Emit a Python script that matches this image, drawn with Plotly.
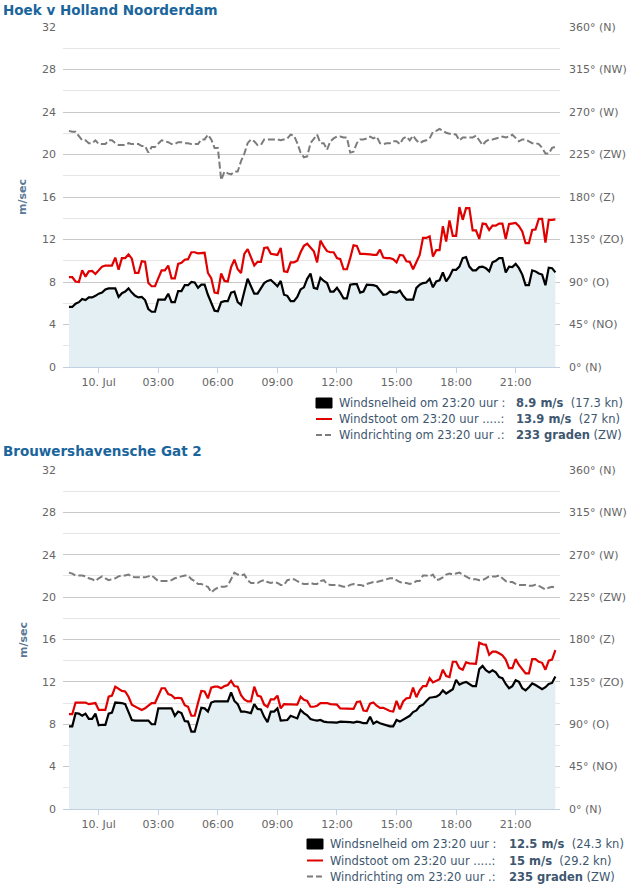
import pandas as pd
import plotly.graph_objects as go

# ---------------- data (10-minute samples, 9 Jul 22:30 -> 10 Jul 23:00) ----------------
times = pd.date_range("2023-07-09 22:30", periods=148, freq="10min")

top_speed = [5.65, 5.65, 5.95, 6.1, 6.4, 6.3, 6.55, 6.55, 6.7, 6.9,
             7.0, 7.3, 7.4, 7.4, 7.4, 6.6, 6.95, 7.1, 7.4, 7.0,
             6.7, 6.55, 6.6, 6.3, 5.45, 5.2, 5.2, 6.35, 6.35, 6.35,
             6.9, 6.1, 6.1, 7.15, 7.15, 7.7, 7.7, 8.0, 7.95, 7.45,
             7.75, 7.75, 6.8, 6.1, 5.3, 5.25, 6.1, 6.2, 6.2, 7.0,
             7.1, 6.1, 5.85, 7.1, 8.3, 7.6, 6.9, 6.9, 7.4, 7.9,
             8.1, 8.2, 7.9, 7.6, 8.1, 6.8, 6.7, 6.2, 6.2, 6.6,
             7.3, 7.5, 8.3, 8.8, 7.45, 7.35, 8.4, 8.1, 7.9, 7.1,
             7.1, 7.45, 7.0, 6.45, 6.45, 7.75, 7.8, 7.8, 7.0, 7.1,
             7.75, 7.75, 7.7, 7.6, 7.2, 6.8, 6.85, 7.1, 7.05, 7.0,
             7.2, 6.7, 6.35, 6.35, 6.35, 7.45, 7.75, 7.9, 7.95, 8.3,
             7.5, 8.05, 8.15, 8.9, 8.05, 8.5, 9.15, 9.15, 9.45, 10.25,
             10.35, 9.45, 9.1, 9.1, 9.4, 9.45, 9.3, 9.0, 9.85, 10.0,
             10.25, 10.25, 8.9, 9.45, 9.4, 9.7, 9.3, 8.7, 7.7, 7.7,
             9.1, 9.0, 8.8, 8.7, 7.7, 9.35, 9.3, 8.9]

top_gust = [8.45, 8.45, 8.05, 8.0, 9.1, 8.5, 9.0, 9.05, 8.75, 9.15,
            9.45, 9.55, 9.55, 9.55, 10.3, 9.15, 10.25, 10.25, 10.6, 10.2,
            8.85, 8.85, 9.95, 9.9, 7.9, 7.6, 7.6, 8.3, 9.1, 9.1,
            9.55, 8.35, 8.35, 9.7, 9.8, 10.1, 10.15, 10.8, 10.8, 10.7,
            10.75, 10.75, 8.85, 8.35, 7.0, 6.95, 8.8, 8.1, 8.05, 9.4,
            10.1, 9.2, 8.85, 10.65, 11.1, 10.4, 9.55, 9.9, 9.9, 11.2,
            11.25, 10.65, 10.6, 10.55, 11.2, 9.0, 8.95, 9.85, 9.85, 10.0,
            10.8, 11.4, 11.6, 11.25, 10.9, 9.85, 11.9, 11.35, 10.9, 10.8,
            10.8, 10.25, 10.15, 9.2, 9.2, 10.25, 11.45, 11.4, 10.65, 10.65,
            10.65, 10.6, 10.55, 10.55, 11.05, 10.3, 10.25, 10.25, 10.15, 9.85,
            10.55, 10.5, 9.95, 9.9, 9.2, 9.95, 10.55, 12.15, 12.15, 12.3,
            10.4, 11.0, 11.0, 13.25, 11.8, 13.8, 12.35, 12.35, 15.05, 13.85,
            14.95, 14.95, 12.85, 12.85, 12.05, 13.5, 13.45, 12.9, 13.3, 13.3,
            13.5, 13.5, 12.05, 13.45, 13.5, 13.55, 13.25, 12.75, 11.65, 11.65,
            12.9, 12.95, 13.95, 13.95, 11.7, 13.85, 13.85, 13.9]

top_dir = [250, 249, 249, 244, 240, 240, 237, 237, 240, 236,
           236, 236, 240, 240, 237, 235, 235, 235, 237, 236,
           236, 236, 234, 234, 227, 233, 233, 236, 240, 239,
           238, 236, 236, 238, 238, 237, 237, 236, 236, 236,
           241, 241, 246, 241, 232, 232, 198, 207, 205, 204,
           207, 207, 218, 226, 237, 241, 239, 235, 235, 241,
           241, 241, 241, 241, 240, 241, 242, 246, 245, 237,
           227, 222, 223, 237, 242, 246, 237, 237, 230, 239,
           242, 244, 244, 243, 243, 227, 228, 237, 241, 241,
           242, 244, 242, 244, 237, 236, 237, 237, 239, 239,
           236, 242, 244, 240, 245, 240, 237, 239, 240, 242,
           249, 250, 252, 250, 248, 247, 247, 246, 240, 243,
           243, 243, 243, 245, 240, 235, 239, 241, 241, 242,
           243, 244, 243, 244, 246, 243, 239, 241, 241, 239,
           237, 237, 236, 232, 226, 226, 232, 233]

bot_speed = [7.8, 7.8, 9.05, 9.0, 8.8, 9.0, 8.5, 8.5, 9.0, 7.9,
             7.95, 7.95, 9.0, 9.1, 10.05, 10.05, 10.0, 9.9, 9.15, 8.4,
             8.35, 8.35, 8.35, 8.35, 8.35, 8.0, 8.0, 9.5, 9.5, 9.5,
             9.5, 9.5, 8.8, 9.2, 9.05, 8.3, 8.25, 7.3, 7.3, 8.55,
             9.55, 9.5, 9.2, 10.05, 10.15, 10.15, 10.15, 10.15, 10.15, 11.0,
             10.2, 9.9, 9.2, 9.2, 9.15, 9.05, 9.9, 9.45, 9.4, 8.7,
             8.2, 9.2, 9.2, 9.5, 8.35, 8.4, 8.4, 8.8, 8.7, 8.55,
             9.35, 9.05, 8.85, 8.5, 8.4, 8.35, 8.4, 8.25, 8.2, 8.2,
             8.15, 8.15, 8.25, 8.25, 8.2, 8.2, 8.15, 8.25, 8.2, 8.1,
             8.1, 8.7, 8.05, 8.25, 8.1, 8.0, 7.9, 7.8, 7.8, 8.4,
             8.25, 8.45, 8.65, 8.8, 9.15, 9.3, 9.7, 9.85, 10.2, 10.5,
             10.55, 10.6, 10.8, 11.2, 10.9, 11.1, 11.3, 12.2, 11.75, 11.9,
             12.0, 11.8, 11.6, 11.6, 13.2, 13.5, 13.1, 12.9, 13.1, 12.9,
             12.45, 12.35, 11.8, 11.4, 11.6, 12.15, 12.0, 11.4, 11.2, 11.5,
             11.85, 11.7, 11.5, 11.3, 11.5, 11.8, 11.9, 12.5]

bot_gust = [8.95, 8.95, 10.05, 10.05, 10.0, 10.05, 9.9, 9.95, 10.0, 9.35,
            9.35, 9.35, 10.6, 10.7, 11.55, 11.35, 11.15, 11.1, 10.6, 9.85,
            9.65, 9.5, 9.35, 9.5, 9.75, 10.0, 10.0, 10.75, 11.4, 11.4,
            10.85, 10.75, 10.45, 10.5, 10.45, 9.8, 9.65, 8.8, 8.8, 10.0,
            11.15, 11.1, 10.45, 11.45, 11.55, 11.55, 11.4, 11.6, 11.7, 12.1,
            11.6, 11.55, 10.75, 10.35, 10.15, 10.15, 11.55, 10.7, 10.6, 9.85,
            9.65, 10.35, 10.35, 10.7, 9.5, 9.9, 9.9, 9.9, 9.85, 9.85,
            10.6, 10.3, 10.2, 9.65, 9.65, 9.75, 10.0, 10.0, 10.0, 9.9,
            9.9, 9.85, 9.5, 9.5, 9.5, 9.45, 9.45, 10.1, 10.15, 9.3,
            9.25, 9.95, 10.05, 9.75, 9.55, 9.55, 9.4, 9.25, 9.2, 10.2,
            9.4, 10.15, 10.45, 10.5, 11.45, 10.55, 11.2, 11.6, 11.6, 12.35,
            11.95, 12.1, 12.25, 13.15, 12.55, 12.45, 13.9, 13.9, 13.3, 13.15,
            13.85, 13.75, 13.7, 13.7, 15.7, 15.55, 15.5, 14.55, 14.85, 14.85,
            14.7, 14.5, 14.1, 13.3, 13.3, 14.15, 13.6, 13.2, 12.8, 12.8,
            14.15, 14.15, 13.9, 13.8, 13.15, 14.0, 14.1, 15.0]

bot_dir = [251, 250, 248, 248, 248, 247, 245, 244, 242, 245,
           247, 245, 243, 244, 245, 247, 248, 248, 249, 247,
           246, 246, 246, 246, 247, 248, 245, 242, 242, 242,
           242, 243, 245, 246, 247, 248, 248, 244, 242, 239,
           239, 237, 236, 230, 233, 235, 236, 236, 237, 244,
           251, 249, 248, 249, 243, 240, 240, 240, 242, 243,
           241, 240, 241, 240, 238, 238, 243, 244, 244, 242,
           240, 239, 239, 240, 239, 239, 242, 243, 239, 238,
           238, 238, 237, 236, 236, 238, 239, 238, 238, 237,
           239, 240, 241, 241, 242, 243, 244, 245, 245, 243,
           241, 240, 240, 239, 240, 242, 242, 248, 248, 247,
           249, 243, 244, 246, 249, 250, 249, 250, 251, 249,
           247, 245, 244, 244, 243, 243, 245, 247, 247, 247,
           248, 245, 242, 241, 241, 239, 238, 238, 238, 237,
           237, 238, 237, 235, 233, 235, 236, 235]

station_names = ["Hoek v Holland Noorderdam", "Brouwershavensche Gat 2"]
x_tick_times = pd.date_range("2023-07-10 00:00", periods=8, freq="3h")
x_tick_text = ["10. Jul", "03:00", "06:00", "09:00", "12:00", "15:00", "18:00", "21:00"]
speed_ticks = list(range(0, 33, 4))
dir_ticks = list(range(0, 361, 45))
dir_tick_text = ["0° (N)", "45° (NO)", "90° (O)", "135° (ZO)", "180° (Z)",
                 "225° (ZW)", "270° (W)", "315° (NW)", "360° (N)"]
compass = ["N", "NO", "O", "ZO", "Z", "ZW", "W", "NW", "N"]
last_time = "23:20"

# ---------------- layout helpers ----------------
W, H = 631, 884
ML, MR, MT, MB = 63, 71, 27, 75
PW, PH = W - ML - MR, H - MT - MB


def px(x):
    return (x - ML) / PW


def py(y):
    return (H - MB - y) / PH


FONT = "DejaVu Sans"
LABEL_C = "#666666"
LEG_C = "#3e576f"
TITLE_C = "#1a659c"
FILL_C = "#e3eff2"

fig = go.Figure()

panels = [
    dict(speed=top_speed, gust=top_gust, dirs=top_dir, x="x", y="y", y2="y2"),
    dict(speed=bot_speed, gust=bot_gust, dirs=bot_dir, x="x2", y="y3", y2="y4"),
]

for p in panels:
    fig.add_trace(go.Scatter(x=times, y=p["speed"], mode="lines", fill="tozeroy",
                             fillcolor=FILL_C, line=dict(color="#000000", width=2.2),
                             xaxis=p["x"], yaxis=p["y"], showlegend=False, name="Windsnelheid"))
    fig.add_trace(go.Scatter(x=times, y=p["gust"], mode="lines",
                             line=dict(color="#e00000", width=2.2),
                             xaxis=p["x"], yaxis=p["y"], showlegend=False, name="Windstoot"))
    fig.add_trace(go.Scatter(x=times, y=p["dirs"], mode="lines",
                             line=dict(color="#7c7c7c", width=2, dash="7px,3px"),
                             xaxis=p["x"], yaxis=p["y2"], showlegend=False, name="Windrichting"))

x_range = [pd.Timestamp("2023-07-09 22:12"), pd.Timestamp("2023-07-10 23:14")]
xcommon = dict(range=x_range, tickvals=x_tick_times, ticktext=x_tick_text,
               ticks="outside", ticklen=5, tickcolor="#c0d0e0", showline=True,
               linecolor="#c0d0e0", linewidth=1, showgrid=False, zeroline=False,
               tickfont=dict(family=FONT, size=11, color=LABEL_C))
yleft = dict(range=[0, 32], tickvals=speed_ticks, showgrid=True, gridcolor="#c8c8c8",
             gridwidth=1, zeroline=False, ticks="", ticklabelstandoff=6,
             minor=dict(dtick=2, showgrid=True, gridcolor="#e6e6e6", gridwidth=1),
             tickfont=dict(family=FONT, size=11, color=LABEL_C))
yright = dict(range=[0, 360], tickvals=dir_ticks, ticktext=dir_tick_text, side="right",
              showgrid=False, zeroline=False, ticks="", ticklabelstandoff=8,
              tickfont=dict(family=FONT, size=11, color=LABEL_C))

top_dom = [py(367), py(27)]
bot_dom = [py(809), py(470)]

fig.update_layout(
    width=W, height=H,
    margin=dict(l=ML, r=MR, t=MT, b=MB, autoexpand=False),
    paper_bgcolor="white", plot_bgcolor="white",
    showlegend=False,
    xaxis=dict(domain=[0, 1], anchor="y", **xcommon),
    xaxis2=dict(domain=[0, 1], anchor="y3", **xcommon),
    yaxis=dict(domain=top_dom, anchor="x", **yleft),
    yaxis2=dict(domain=top_dom, anchor="x", overlaying="y", **yright),
    yaxis3=dict(domain=bot_dom, anchor="x2", **yleft),
    yaxis4=dict(domain=bot_dom, anchor="x2", overlaying="y3", **yright),
)

annotations = []
shapes = []

title_y = [10, 451]
mtitle_y = [197, 640]
leg_rows = [[403, 419, 435], [844, 860.5, 876.5]]
leg_sym_x = [316, 307]
leg_txt_x = [337, 328]
leg_val_x = [514, 507]

for i, p in enumerate(panels):
    annotations.append(dict(text="<b>%s</b>" % station_names[i], xref="paper", yref="paper",
                            x=px(1), y=py(title_y[i]), xanchor="left", yanchor="middle",
                            showarrow=False, font=dict(family=FONT, size=13.5, color=TITLE_C)))
    annotations.append(dict(text="<b>m/sec</b>", xref="paper", yref="paper", textangle=-90,
                            x=px(23), y=py(mtitle_y[i]), xanchor="center", yanchor="middle",
                            showarrow=False, font=dict(family=FONT, size=11, color="#5a7897")))

    sp = p["speed"][-1]
    gu = p["gust"][-1]
    di = p["dirs"][-1]
    labels = ["Windsnelheid om %s uur :" % last_time,
              "Windstoot om %s uur .....:" % last_time,
              "Windrichting om %s uur .:" % last_time]
    values = ["<b>%g m/s</b>  (%g kn)" % (sp, round(sp * 1.94384, 1)),
              "<b>%g m/s</b>  (%g kn)" % (gu, round(gu * 1.94384, 1)),
              "<b>%d graden</b> (%s)" % (di, compass[int(round(di / 45.0))])]
    rows = leg_rows[i]
    for r in range(3):
        annotations.append(dict(text=labels[r], xref="paper", yref="paper",
                                x=px(leg_txt_x[i]), y=py(rows[r]), xanchor="left", yanchor="middle",
                                showarrow=False, font=dict(family=FONT, size=11.5, color=LEG_C)))
        annotations.append(dict(text=values[r], xref="paper", yref="paper",
                                x=px(leg_val_x[i]), y=py(rows[r]), xanchor="left", yanchor="middle",
                                showarrow=False, font=dict(family=FONT, size=11.5, color=LEG_C)))
    sx = leg_sym_x[i]
    shapes.append(dict(type="rect", xref="paper", yref="paper",
                       x0=px(sx), x1=px(sx + 16), y0=py(rows[0] - 5), y1=py(rows[0] + 5),
                       fillcolor="#000000", line=dict(color="#000000", width=1)))
    shapes.append(dict(type="line", xref="paper", yref="paper",
                       x0=px(sx), x1=px(sx + 16), y0=py(rows[1]), y1=py(rows[1]),
                       line=dict(color="#e00000", width=2)))
    shapes.append(dict(type="line", xref="paper", yref="paper",
                       x0=px(sx), x1=px(sx + 16), y0=py(rows[2]), y1=py(rows[2]),
                       line=dict(color="#7c7c7c", width=2, dash="6px,3px")))

fig.update_layout(annotations=annotations, shapes=shapes)

fig.write_html("out.html", config={"displayModeBar": False},
               post_script="document.body.style.margin='0';document.body.style.padding='0';"
                           "document.body.style.overflow='hidden';"
                           "document.documentElement.style.overflow='hidden';")
